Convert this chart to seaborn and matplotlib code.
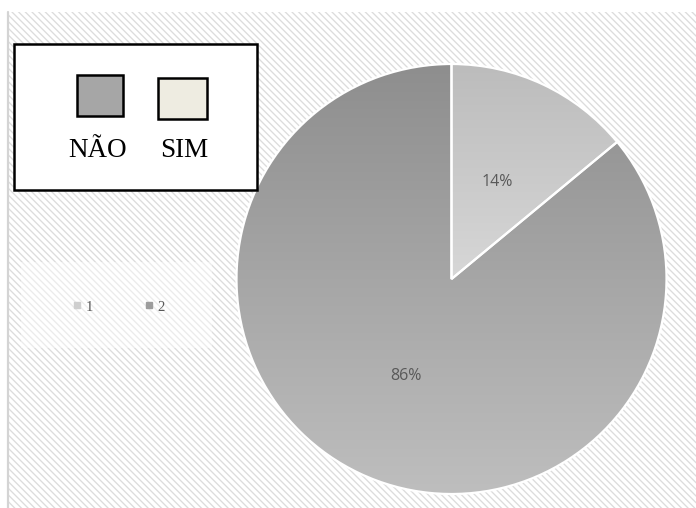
import numpy as np
import matplotlib
matplotlib.use("Agg")
import matplotlib.pyplot as plt
import seaborn as sns
from matplotlib.patches import Rectangle
from matplotlib.lines import Line2D
from matplotlib.colors import LinearSegmentedColormap

# Data
answers = ["NÃO", "SIM"]
answer_colors = ["#a6a6a6", "#eeece1"]
series_labels = ["1", "2"]
shares = [14, 86]
# gradient (top -> bottom) for each slice
slice_gradients = [("#bcbcbc", "#f2f2f2"), ("#8e8e8e", "#bebebe")]
legend_marker_colors = ["#cfcfcf", "#9c9c9c"]

sns.set_theme(style="white")
plt.rcParams["hatch.color"] = "#dcdcdc"
plt.rcParams["hatch.linewidth"] = 0.95

W, H = 696, 508
fig = plt.figure(figsize=(W / 100, H / 100), dpi=100)
ax = fig.add_axes([0, 0, 1, 1])
ax.set_xlim(0, W)
ax.set_ylim(0, H)
ax.axis("off")

# hatched chart area
ax.add_patch(Rectangle((8, 0), W - 8, H - 12, facecolor="white",
                       edgecolor="#dcdcdc", hatch="\\" * 5, linewidth=0, zorder=0))
ax.plot([7.5, 7.5], [0, H - 12], color="#d4d4d4", lw=1.6, zorder=0.5)

# pie
cx, cy, r = 451.5, H - 279, 215
wedges, _, autotexts = ax.pie(
    shares, startangle=90, counterclock=False, center=(cx, cy), radius=r,
    colors=[g[1] for g in slice_gradients], autopct="%1.0f%%", pctdistance=0.5,
    wedgeprops=dict(edgecolor="white", linewidth=1.6),
    textprops=dict(color="#595959", fontsize=11.5, family="Open Sans"),
    frame=True,
)
for w, (top, bottom) in zip(wedges, slice_gradients):
    cmap = LinearSegmentedColormap.from_list("g", [bottom, top])
    grad = np.linspace(0, 1, 256).reshape(-1, 1)
    img = ax.imshow(grad, extent=(cx - r, cx + r, cy - r, cy + r), origin="lower",
                    cmap=cmap, aspect="auto", zorder=1.2, interpolation="bilinear")
    img.set_clip_path(w)
    w.set_facecolor("none")
    w.set_zorder(1.5)
for t in autotexts:
    t.set_zorder(3)

ax.set_xlim(0, W)
ax.set_ylim(0, H)
ax.set_aspect("auto")
ax.axis("off")

# category key box
ax.add_patch(Rectangle((14, H - 190), 243, 146, facecolor="white",
                       edgecolor="black", linewidth=1.8, zorder=4))
key_boxes = [(77, 75, 46, 41), (158, 78, 49, 41)]
key_text_x = [97.5, 184]
for name, col, (x0, y0, bw, bh), tx in zip(answers, answer_colors, key_boxes, key_text_x):
    ax.add_patch(Rectangle((x0, H - y0 - bh), bw, bh, facecolor=col,
                           edgecolor="black", linewidth=1.8, zorder=5))
    ax.text(tx, H - 157, name, ha="center", va="baseline", fontsize=19.5,
            family="Liberation Serif", color="black", zorder=5)

# series legend
ax.add_patch(Rectangle((21, H - 348), 191, 86, facecolor="white", alpha=0.45,
                       edgecolor="none", zorder=2))
handles = [Line2D([], [], marker="s", ls="", markersize=5, color=c, markeredgecolor=c)
           for c in legend_marker_colors]
leg = ax.legend(handles, series_labels, loc="center",
                bbox_to_anchor=(119 / W, (H - 307) / H),
                ncol=2, frameon=False, handlelength=0.5, handletextpad=0.3,
                columnspacing=3.6, prop=dict(family="Liberation Serif", size=10.5))
for t in leg.get_texts():
    t.set_color("#595959")
leg.set_zorder(3)

fig.savefig("out.png", dpi=100)
